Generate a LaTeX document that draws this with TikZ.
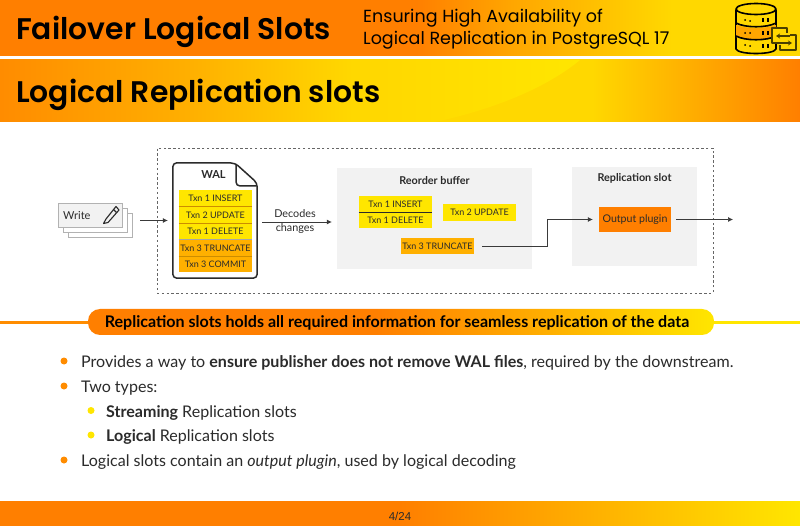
\documentclass[tikz,border=0pt]{standalone}
\usepackage{fontspec}
\setmainfont{Lato}
\newfontfamily\headfont{Poppins}
\newfontfamily\headbold{Poppins SemiBold}
\newfontfamily\pagefont{Liberation Sans}
\usetikzlibrary{arrows.meta,calc}
\definecolor{orA}{HTML}{FF7F00}
\definecolor{orB}{HTML}{FFB000}
\definecolor{yeA}{HTML}{FFE600}
\definecolor{yeB}{HTML}{FFD800}
\definecolor{grayBox}{HTML}{F2F2F2}
\definecolor{ink}{HTML}{2B2B2B}
\definecolor{lineGray}{HTML}{3A3A3A}
\definecolor{swapInk}{HTML}{4A4000}
\pgfdeclarehorizontalshading{bandtop}{100bp}{color(0bp)=(orA); color(25bp)=(orA); color(51bp)=(orA); color(57bp)=(orB!80!orA); color(67bp)=(yeB); color(100bp)=(yeB)}
\pgfdeclarehorizontalshading{bandsub}{100bp}{color(0bp)=(orA); color(25bp)=(orA!90!yellow); color(37bp)=(orB); color(47bp)=(yeB); color(62bp)=(yeB); color(75bp)=(orA); color(100bp)=(orA)}
\pgfdeclarehorizontalshading{bandfoot}{100bp}{color(0bp)=(orA); color(25bp)=(orA); color(50bp)=(orA); color(62bp)=(orB); color(75bp)=(yeA); color(100bp)=(yeA)}
\pgfdeclarehorizontalshading{bandpill}{100bp}{color(0bp)=(orA); color(25bp)=(orA); color(48bp)=(orA); color(62bp)=(orB); color(75bp)=(yeA); color(100bp)=(yeA)}
\tikzset{
  x=1pt,y=-1pt,
  titletext/.style={anchor=base west,inner sep=0pt,text=black,font=\headbold\fontsize{29.8}{31}\selectfont},
  subtext/.style={anchor=base west,inner sep=0pt,text=black,font=\headfont\fontsize{17.5}{19}\selectfont},
  txnlabel/.style={inner sep=0pt,font=\fontsize{9}{10}\selectfont,text=ink,minimum height=#1,align=center},
  txnY/.style={txnlabel=16pt,fill=yeA,minimum width=73pt},
  txnO/.style={txnlabel=16pt,fill=orB,minimum width=73pt},
  boxtitle/.style={inner sep=0pt,font=\bfseries\fontsize{10.8}{12}\selectfont,text=ink},
  graybox/.style={fill=grayBox,draw=none,inner sep=0pt},
  smalltext/.style={inner sep=0pt,font=\fontsize{10.8}{12}\selectfont,text=ink},
  flow/.style={draw=lineGray,line width=0.7pt,-{Latex[length=5pt,width=5pt]}},
  bullettext/.style={anchor=base west,inner sep=0pt,text=ink,font=\fontsize{16.05}{18}\selectfont},
  bulletdot/.style={circle,inner sep=0pt,minimum size=#1,fill=orA!90!yellow},
  icon/.style={draw=black,line width=1.6pt,line join=round},
  sheet/.style={draw=black!30,fill=#1,inner sep=0pt,minimum width=64pt,minimum height=24pt},
}
\begin{document}
\begin{tikzpicture}
\useasboundingbox (0,0) rectangle (800,526);
\fill[white] (0,0) rectangle (800,526);
% bands
\shade[shading=bandtop] (0,0) rectangle (800,56);
\shade[shading=bandsub] (0,60) rectangle (800,122);
\shade[left color=yeB,right color=yeA] (380,60) -- (580,60) .. controls (550,85) and (500,108) .. (435,122) -- (380,122) -- cycle;
\shade[shading=bandfoot] (0,501) rectangle (800,526);
\node[titletext] (title) at (16,40) {Failover Logical Slots};
\node[subtext] (subA) at (363,23) {Ensuring High Availability of};
\node[subtext] (subB) at (363,45) {Logical Replication in PostgreSQL 17};
\node[titletext] (heading) at (16,103) {Logical Replication slots};
% database icon
\begin{scope}[icon]
\filldraw[fill=yeB] (736,10) -- (736,49) .. controls (738,55) and (774,55) .. (776,49) -- (776,10) -- cycle;
\filldraw[fill=orange!70!yellow,draw=none] (736,25) .. controls (747,29) and (765,29) .. (776,25) -- (776,37) .. controls (765,41) and (747,41) .. (736,37) -- cycle;
\filldraw[fill=yeB] (756,9) ellipse (20 and 5.5);
\draw (736,23) .. controls (745,28) and (767,28) .. (776,23);
\draw (736,36) .. controls (745,41) and (767,41) .. (776,36);
\draw[line width=1.2pt] (763,18)--(763,22) (768,18)--(768,22) (763,31)--(763,35) (768,31)--(768,35) (763,44)--(763,48) (768,44)--(768,48);
\fill (745,20) circle (1) (750,21) circle (1) (745,33) circle (1) (750,33) circle (1) (745,45) circle (1) (750,46) circle (1);
\fill[yeB] (772,28) -- (787,28) -- (787,35) -- (796,35) -- (796,50) -- (780,50) -- (780,43) -- (772,43) -- cycle;
\draw[draw=swapInk,line width=1.3pt] (779,43) -- (772,43) -- (772,28) -- (787,28) -- (787,33);
\draw[draw=swapInk,line width=1.3pt] (780,45) -- (780,50) -- (796,50) -- (796,35) -- (790,35);
\draw[draw=swapInk,line width=1.2pt,-{Stealth[length=4pt,width=5pt]}] (790,36) -- (776,36);
\draw[draw=swapInk,line width=1.2pt,-{Stealth[length=4pt,width=5pt]}] (777,43) -- (792,43);
\end{scope}
% dashed container
\node[draw=black!60,line width=0.9pt,inner sep=0pt,minimum width=556pt,minimum height=145pt,dash pattern=on 2.4pt off 2.4pt] (frame) at (435,220.5) {};
% write stack
\node[sheet=white] (w3) at (100,225) {};
\node[sheet=white] (w2) at (95,220) {};
\node[sheet=grayBox] (write) at (90,215) {};
\node[anchor=west,inner sep=0pt,font=\fontsize{11}{12}\selectfont,text=ink] (writetext) at (63,215.5) {Write};
\begin{scope}[line width=1.1pt,draw=ink,line join=round]
\draw (106,219) -- (103.5,223.5) -- (108,222.5) -- (119,210) -- (116,206.5) -- cycle;
\draw (113.5,209.5) -- (116.5,212.5);
\end{scope}
% WAL document
\node[inner sep=0pt,minimum width=84pt,minimum height=115pt] (waldoc) at (215,220.5) {};
\draw[draw=ink,line width=1.5pt,fill=white,rounded corners=4pt] (waldoc.north west) -- (235,163) -- (waldoc.east |- 0,183) -- (waldoc.south east) -- (waldoc.south west) -- cycle;
\draw[draw=ink,line width=1.5pt,rounded corners=4pt] (236,164) -- (236,186) -- (256.5,186);
\node[boxtitle,font=\bfseries\fontsize{11}{12}\selectfont] (wal) at (213.5,174.5) {WAL};
\node[txnY] (t1) at (215.5,198.5) {Txn 1 INSERT};
\node[txnY] (t2) at (215.5,215) {Txn 2 UPDATE};
\node[txnY] (t3) at (215.5,231.5) {Txn 1 DELETE};
\node[txnO] (t4) at (215.5,248) {Txn 3 TRUNCATE};
\node[txnO] (t5) at (215.5,264) {Txn 3 COMMIT};
\draw[orB!80!black,line width=.8pt] (t1.south west) -- (t1.south east) (t4.south west) -- (t4.south east);
\draw[orB!80!black,line width=.5pt] (t2.south west) -- (t2.south east);
\draw[black!35,line width=.7pt] (t3.south west) -- (t3.south east);
% reorder buffer
\node[graybox,minimum width=195pt,minimum height=101pt] (reorder) at (434.5,218.5) {};
\node[boxtitle] (reordert) at (434.5,180.5) {Reorder buffer};
\node[txnY] (r1) at (395.5,204) {Txn 1 INSERT};
\node[txnY] (r2) at (395.5,220) {Txn 1 DELETE};
\draw[ink,line width=.6pt] (r1.south west) -- (r1.south east);
\node[txnY,minimum height=17pt] (r3) at (479.5,212.3) {Txn 2 UPDATE};
\node[txnO,minimum height=16.5pt] (r4) at (437.5,246.2) {Txn 3 TRUNCATE};
% replication slot
\node[graybox,minimum width=125pt,minimum height=99pt] (slot) at (634.5,216.5) {};
\node[boxtitle] (slott) at (634.5,178.5) {Replication slot};
\node[inner sep=0pt,fill=orA,minimum width=72pt,minimum height=25pt,font=\fontsize{10.6}{12}\selectfont,text=ink] (plugin) at (635,219.5) {Output plugin};
\coordinate (exit) at (733,219.5);
\draw[flow] ($(w3.east)+(8,-4.5)$) -- ($(waldoc.west)+(-5,0)$);
\draw[flow] ($(waldoc.east)+(5,1.5)$) -- ($(reorder.west)+(-5,3.5)$);
\draw[flow] ($(r4.east)+(8,0)$) -- (547,246.2) -- (547,219.5) -- ($(plugin.west)+(-6,0)$);
\draw[flow] ($(plugin.east)+(5,0)$) -- (exit);
\node[smalltext] (dec1) at (295,213.5) {Decodes};
\node[smalltext] (dec2) at (295,229) {changes};
% callout
\draw[orA!90!yellow,line width=2.5pt] (0,322.5) -- (90,322.5);
\draw[yeA,line width=2.5pt] (712,322.5) -- (800,322.5);
\shade[shading=bandpill,rounded corners=12pt] (88,309) rectangle (714,335);
\node[inner sep=0pt,font=\bfseries\fontsize{16.05}{18}\selectfont,text=black] (callout) at (397,323) {Replication slots holds all required information for seamless replication of the data};
% bullets
\node[bulletdot=7pt] (b1) at (64,361) {};
\node[bulletdot=7pt] (b2) at (64,386) {};
\node[bulletdot=7pt,fill=yeA] (b3) at (91,410.5) {};
\node[bulletdot=7pt,fill=yeA] (b4) at (91,435) {};
\node[bulletdot=7pt] (b5) at (64,460) {};
\node[bullettext] (l1) at (81,367.5) {Provides a way to \textbf{ensure publisher does not remove WAL files}, required by the downstream.};
\node[bullettext] (l2) at (81,392.5) {Two types:};
\node[bullettext] (l3) at (106,417) {\textbf{Streaming} Replication slots};
\node[bullettext] (l4) at (106,441.5) {\textbf{Logical} Replication slots};
\node[bullettext] (l5) at (81,466) {Logical slots contain an \textit{output plugin}, used by logical decoding};
\node[inner sep=0pt,font=\pagefont\fontsize{11.5}{13}\selectfont,text=ink] (page) at (400,516) {4/24};
\end{tikzpicture}
\end{document}
